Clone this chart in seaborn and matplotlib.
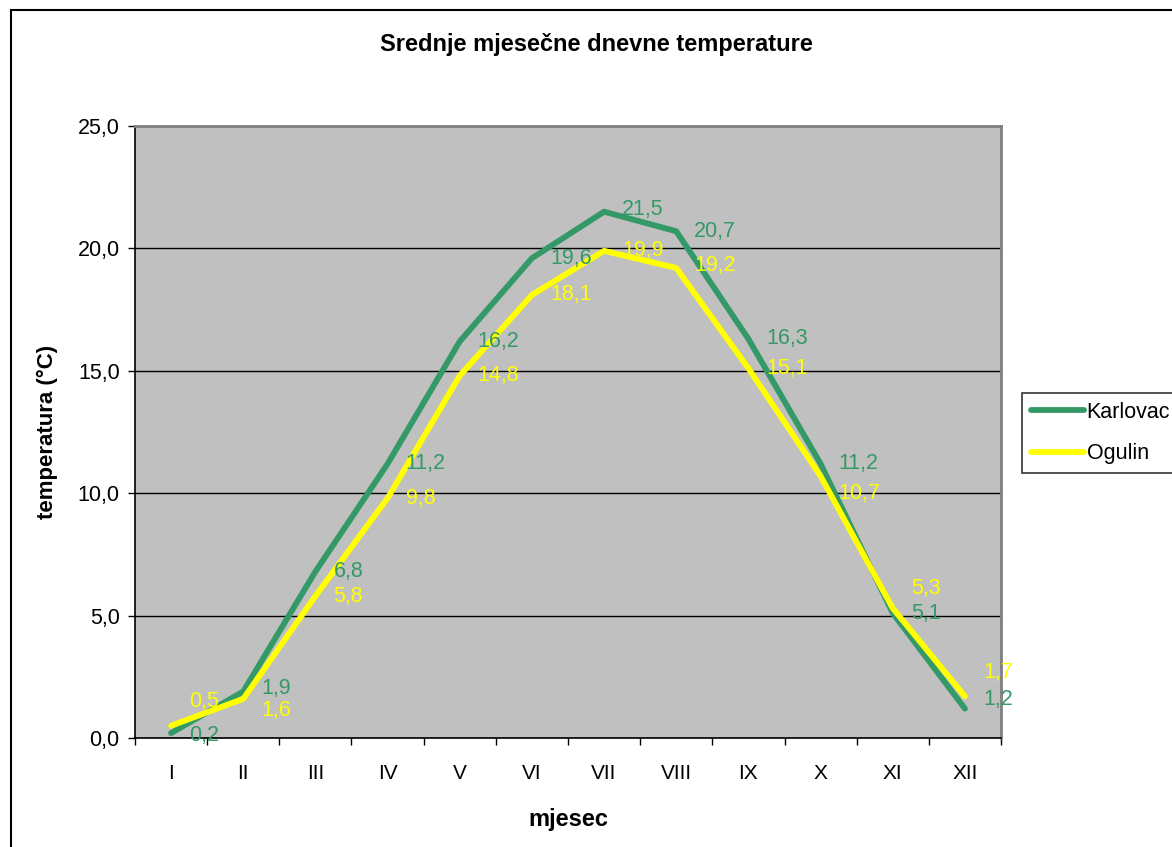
import matplotlib
matplotlib.use("Agg")
import matplotlib.pyplot as plt
import matplotlib.patches as mpatches
from matplotlib.ticker import FuncFormatter, FixedLocator
import seaborn as sns
import pandas as pd

months = ["I", "II", "III", "IV", "V", "VI", "VII", "VIII", "IX", "X", "XI", "XII"]
karlovac = [0.2, 1.9, 6.8, 11.2, 16.2, 19.6, 21.5, 20.7, 16.3, 11.2, 5.1, 1.2]
ogulin = [0.5, 1.6, 5.8, 9.8, 14.8, 18.1, 19.9, 19.2, 15.1, 10.7, 5.3, 1.7]
series_names = ["Karlovac", "Ogulin"]
colors = {"Karlovac": "#339966", "Ogulin": "#FFFF00"}

# per-label vertical nudges (pixels) mimicking the reference placement
k_dy = [-2, 3, 0, 0, 0, 0, 2, 0, 0, 0, 0, 9]
o_dy = [24, -12, 0, 0, 0, 0, 0, 2, 0, -17, 20, 24]

sns.set_theme(style="white")
plt.rcParams["font.family"] = ["Liberation Sans", "DejaVu Sans"]
plt.rcParams["text.color"] = "black"
plt.rcParams["axes.labelcolor"] = "black"

df = pd.DataFrame({
    "x": list(range(12)) * 2,
    "temp": karlovac + ogulin,
    "grad": ["Karlovac"] * 12 + ["Ogulin"] * 12,
})

W, H = 1172, 847
fig = plt.figure(figsize=(W / 100, H / 100), dpi=100)
fig.patch.set_facecolor("white")
ax = fig.add_axes([135 / W, 1 - 738 / H, (1001 - 135) / W, (738 - 126) / H])
ax.set_facecolor("#C0C0C0")

sns.lineplot(data=df, x="x", y="temp", hue="grad", palette=colors,
             hue_order=series_names, linewidth=4.2, ax=ax, legend=False,
             solid_capstyle="round")

ax.set_xlim(-0.5, 11.5)
ax.set_ylim(0, 25)
ax.set_yticks([0, 5, 10, 15, 20, 25])
ax.yaxis.set_major_formatter(FuncFormatter(lambda v, p: f"{v:.1f}".replace(".", ",")))
ax.grid(axis="y", color="black", linewidth=1.0)
ax.set_axisbelow(True)

ax.set_xticks(range(12))
ax.set_xticklabels(months)
ax.xaxis.set_minor_locator(FixedLocator([i - 0.5 for i in range(13)]))
ax.tick_params(axis="x", which="major", length=0, pad=19, labelsize=15, colors="black")
ax.tick_params(axis="x", which="minor", length=5, width=1, color="black", direction="out", bottom=True)
ax.tick_params(axis="y", which="major", length=5, width=1, color="black", direction="out",
               left=True, pad=6, labelsize=15.5, labelcolor="black")

for side in ["top", "right"]:
    ax.spines[side].set_color("#808080")
    ax.spines[side].set_linewidth(2)
for side in ["left", "bottom"]:
    ax.spines[side].set_color("black")
    ax.spines[side].set_linewidth(1.2)

for i, (k, o) in enumerate(zip(karlovac, ogulin)):
    ax.annotate(f"{k:.1f}".replace(".", ","), (i, k), xytext=(13, k_dy[i] * 0.72),
                textcoords="offset points", ha="left", va="center",
                fontsize=15.5, color="#339966")
    ax.annotate(f"{o:.1f}".replace(".", ","), (i, o), xytext=(13, o_dy[i] * 0.72),
                textcoords="offset points", ha="left", va="center",
                fontsize=15.5, color="#FFFF00")

ax.set_xlabel("mjesec", fontsize=17, fontweight="bold", labelpad=18, color="black")
ax.set_ylabel("temperatura (°C)", fontsize=16, fontweight="bold", labelpad=14, color="black")

fig.text(596 / W, 1 - 45 / H, "Srednje mjesečne dnevne temperature",
         ha="center", va="center", fontsize=17, fontweight="bold", color="black")

handles = [plt.Line2D([], [], color=colors[n], linewidth=4.2, solid_capstyle="round")
           for n in series_names]
leg = fig.legend(handles, series_names, loc="upper left",
                 bbox_to_anchor=(1022 / W, 1 - 393 / H), fontsize=15.5,
                 frameon=True, fancybox=False, handlelength=2.5,
                 handletextpad=0.1, borderpad=0.4, labelspacing=0.95,
                 borderaxespad=0)
leg.get_frame().set_edgecolor("black")
leg.get_frame().set_linewidth(1.2)
for t in leg.get_texts():
    t.set_color("black")

border = mpatches.Rectangle((11 / W, -0.01), 1.0, 1 - 10 / H + 0.01,
                            transform=fig.transFigure, fill=False,
                            edgecolor="black", linewidth=1.5)
fig.patches.append(border)

fig.savefig("out.png", dpi=100)
